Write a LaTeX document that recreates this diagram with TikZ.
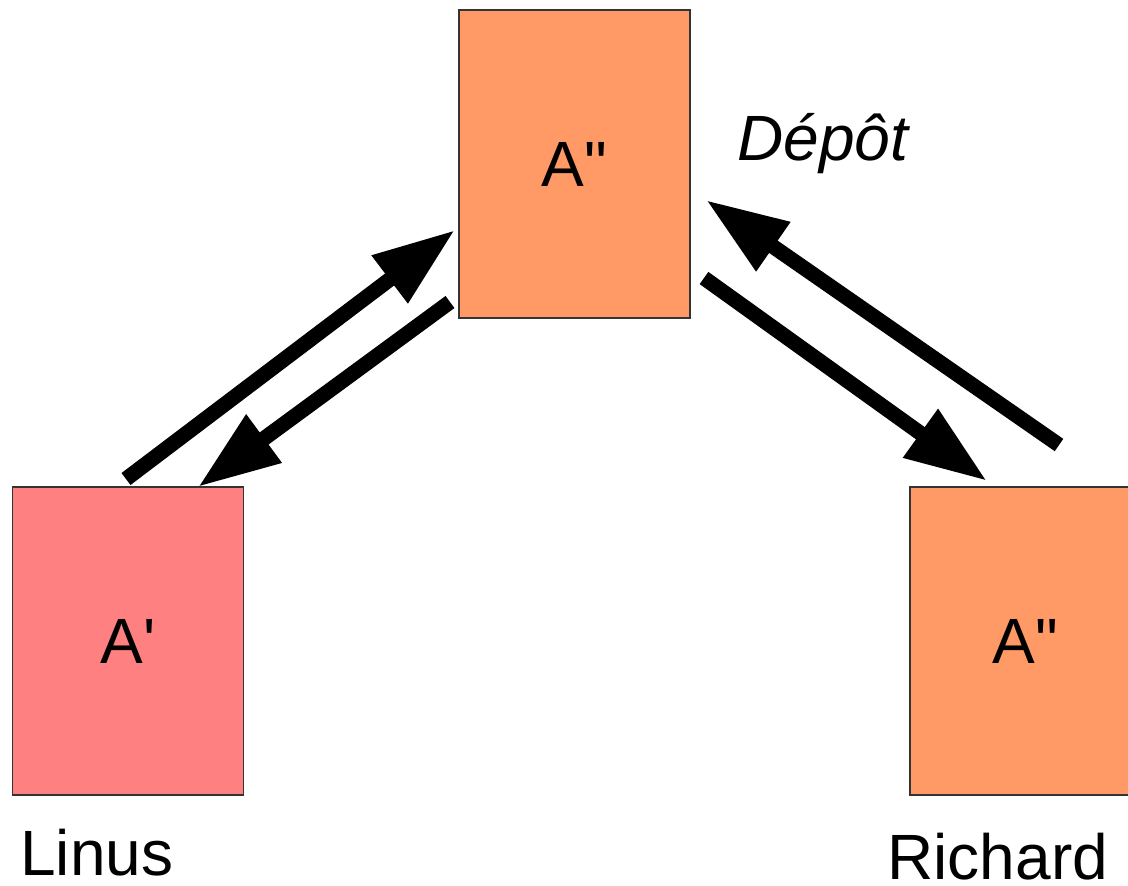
\documentclass[tikz,border=0pt]{standalone}
\usepackage{fontspec}
\setmainfont{Liberation Sans}
\newfontfamily\plainfont{Liberation Sans}
\usetikzlibrary{arrows.meta}
\definecolor{depot}{HTML}{FF9966}
\definecolor{linus}{HTML}{FF8080}
\tikzset{
  box/.style={draw=black!80, line width=0.6pt, minimum width=115.5pt, minimum height=154pt, inner sep=0pt, font=\plainfont\fontsize{32}{38}\selectfont},
  lbl/.style={inner sep=0pt, font=\fontsize{32}{38}\selectfont},
  flow/.style={line width=7.5pt, -{Triangle[length=41pt, width=28pt]}, shorten >=0pt}
}
\begin{document}
\begin{tikzpicture}[x=0.5pt, y=-0.5pt]
\useasboundingbox (0,0) rectangle (1128,885);
\node[box, fill=depot] (depot) at (574.5,164) {A"};
\node[box, fill=linus] (linus) at (128,641) {A'};
\node[box, fill=depot] (richard) at (1025.5,641) {A"};
\node[lbl, anchor=base west] (depotlbl) at (737,160) {\itshape Dépôt};
\node[lbl, anchor=base west] (linuslbl) at (20,875) {Linus};
\node[lbl, anchor=base west] (richardlbl) at (887,879) {Richard};
\coordinate (l1) at (126,479);
\coordinate (d1) at (455,230);
\coordinate (d2) at (450,302);
\coordinate (l2) at (198,487);
\coordinate (d3) at (704,278);
\coordinate (r3) at (987,481);
\coordinate (r4) at (1059,445);
\coordinate (d4) at (706,200);
\draw[flow] (l1) -- (d1);
\draw[flow] (d2) -- (l2);
\draw[flow] (d3) -- (r3);
\draw[flow] (r4) -- (d4);
\end{tikzpicture}
\end{document}
